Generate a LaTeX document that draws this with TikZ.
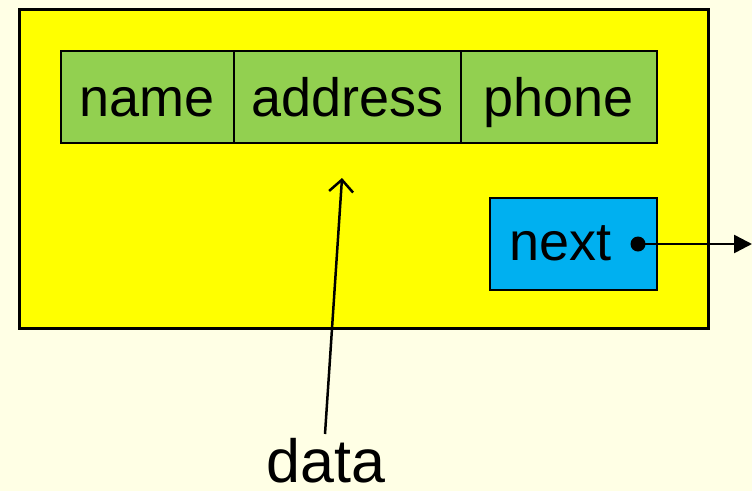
\documentclass[tikz,border=0pt]{standalone}
\usepackage{fontspec}
\setmainfont{Liberation Sans}
\usetikzlibrary{arrows.meta}
\definecolor{bgc}{HTML}{FFFFE5}
\definecolor{ylw}{HTML}{FFFF00}
\definecolor{grn}{HTML}{92D050}
\definecolor{blu}{HTML}{00B0F0}
\begin{document}
\begin{tikzpicture}[x=1pt,y=-1pt,
  cell/.style={draw=black,line width=1.5pt,fill=grn,minimum height=92pt,inner sep=0pt,anchor=north west,
    text height=40pt,text depth=0pt,font=\fontsize{54}{60}\selectfont},
  link/.style={line width=2.5pt}]
\fill[bgc] (0,0) rectangle (752,491);
\useasboundingbox (0,0) rectangle (752,491);
\node[draw=black,line width=2.5pt,fill=ylw,minimum width=689pt,minimum height=319pt,inner sep=0pt,anchor=north west] (rec) at (18,8) {};
\node[cell,minimum width=173pt] (name) at (60,50) {name};
\node[cell,minimum width=227pt] (addr) at (233,50) {address};
\node[cell,minimum width=196pt] (phone) at (460,50) {phone};
\node[cell,fill=blu,minimum width=167pt,text width=167pt,text height=34pt,align=left] (next) at (489,197) {\hspace{20pt}next};
\coordinate (dot) at (638,244);
\coordinate (out) at (752,244);
\fill (dot) circle (7.5pt);
\draw[link,-{Triangle[length=18pt,width=18pt]}] (dot) -- (out);
\node[font=\fontsize{61}{66}\selectfont,anchor=base,inner sep=0pt] (data) at (326,482) {data};
\coordinate (tip) at (342,178);
\draw[link,-{Straight Barb[length=12pt,width=24pt,line width=2.5pt]}] (325,434) -- (tip);
\end{tikzpicture}
\end{document}
